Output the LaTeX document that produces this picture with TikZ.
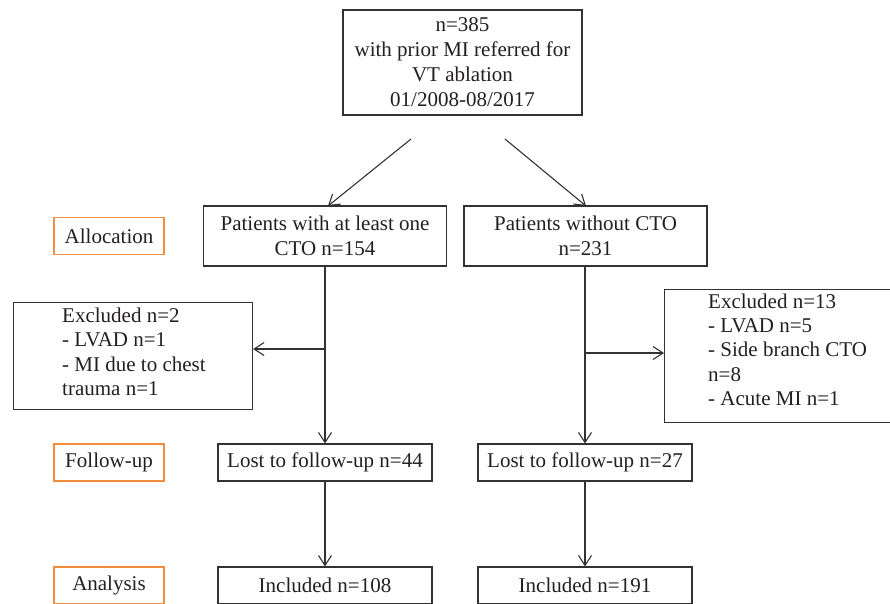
\documentclass[tikz,border=0pt]{standalone}
\usepackage{fontspec}
\setmainfont{Liberation Serif}
\usetikzlibrary{arrows.meta}
\definecolor{linecol}{RGB}{50,50,50}
\definecolor{textcol}{RGB}{35,31,32}
\definecolor{orangecol}{RGB}{241,141,62}
\begin{document}
\begin{tikzpicture}[x=1pt,y=-1pt,
  box/.style={draw=linecol, line width=1.1pt, inner sep=0pt, align=center, text=textcol,
    font=\fontsize{21}{25}\selectfont},
  stagebox/.style={box, draw=orangecol, minimum width=110pt, minimum height=37pt},
  txt/.style={inner sep=0pt, align=left, text=textcol, font=\fontsize{21}{24.5}\selectfont},
  conn/.style={draw=linecol, line width=1.1pt, -{Straight Barb[length=10pt,width=13pt]}}]
\useasboundingbox (0,0) rectangle (890,603);
\clip (0,0) rectangle (890,603);
% top box
\node[box, minimum width=239pt, minimum height=105pt] (top) at (462.5,62.5)
  {n=385\\with prior MI referred for\\VT ablation\\01/2008-08/2017};
% allocation row
\node[stagebox] (alloc) at (109,236) {Allocation};
\node[box, minimum width=243pt, minimum height=60pt] (midL) at (325,236)
  {Patients with at least one\\CTO n=154};
\node[box, minimum width=243pt, minimum height=60pt] (midR) at (585.5,236)
  {Patients without CTO\\n=231};
% excluded boxes
\node[box, minimum width=239pt, minimum height=107pt, anchor=north west] (exclL) at (13,302) {};
\node[txt, anchor=north west] (exclLt) at (62,307.5)
  {Excluded n=2\\- LVAD n=1\\- MI due to chest\\trauma n=1};
\node[box, minimum width=246pt, minimum height=133pt, anchor=north west] (exclR) at (664,289) {};
\node[txt, anchor=north west, font=\fontsize{21}{24.25}\selectfont] (exclRt) at (708,293.5)
  {Excluded n=13\\- LVAD n=5\\- Side branch CTO\\n=8\\- Acute MI n=1};
% follow-up row
\node[stagebox] (follow) at (109,462.5) {Follow-up};
\node[box, minimum width=214pt, minimum height=37pt] (lostL) at (325,462.5) {Lost to follow-up n=44};
\node[box, minimum width=214pt, minimum height=37pt] (lostR) at (585,462.5) {Lost to follow-up n=27};
% analysis row
\node[stagebox] (analysis) at (109,585.5) {Analysis};
\node[box, minimum width=214pt, minimum height=37pt] (inclL) at (325,585.5) {Included n=108};
\node[box, minimum width=214pt, minimum height=37pt] (inclR) at (585,585.5) {Included n=191};
% connectors
\coordinate (tl) at (411,139);
\coordinate (tr) at (505,139);
\coordinate (tlend) at (328,206);
\coordinate (trend) at (586,206);
\draw[conn] (tl) -- (tlend);
\draw[conn] (tr) -- (trend);
\draw[conn] (midL.south) -- (lostL.north);
\draw[conn] (midR.south -| lostR.north) -- (lostR.north);
\coordinate (bl) at (325,349);
\coordinate (br) at (585,353);
\draw[conn] (bl) -- (bl -| exclL.east);
\draw[conn] (br) -- (br -| exclR.west);
\draw[conn] (lostL.south) -- (inclL.north);
\draw[conn] (lostR.south) -- (inclR.north);
\end{tikzpicture}
\end{document}
